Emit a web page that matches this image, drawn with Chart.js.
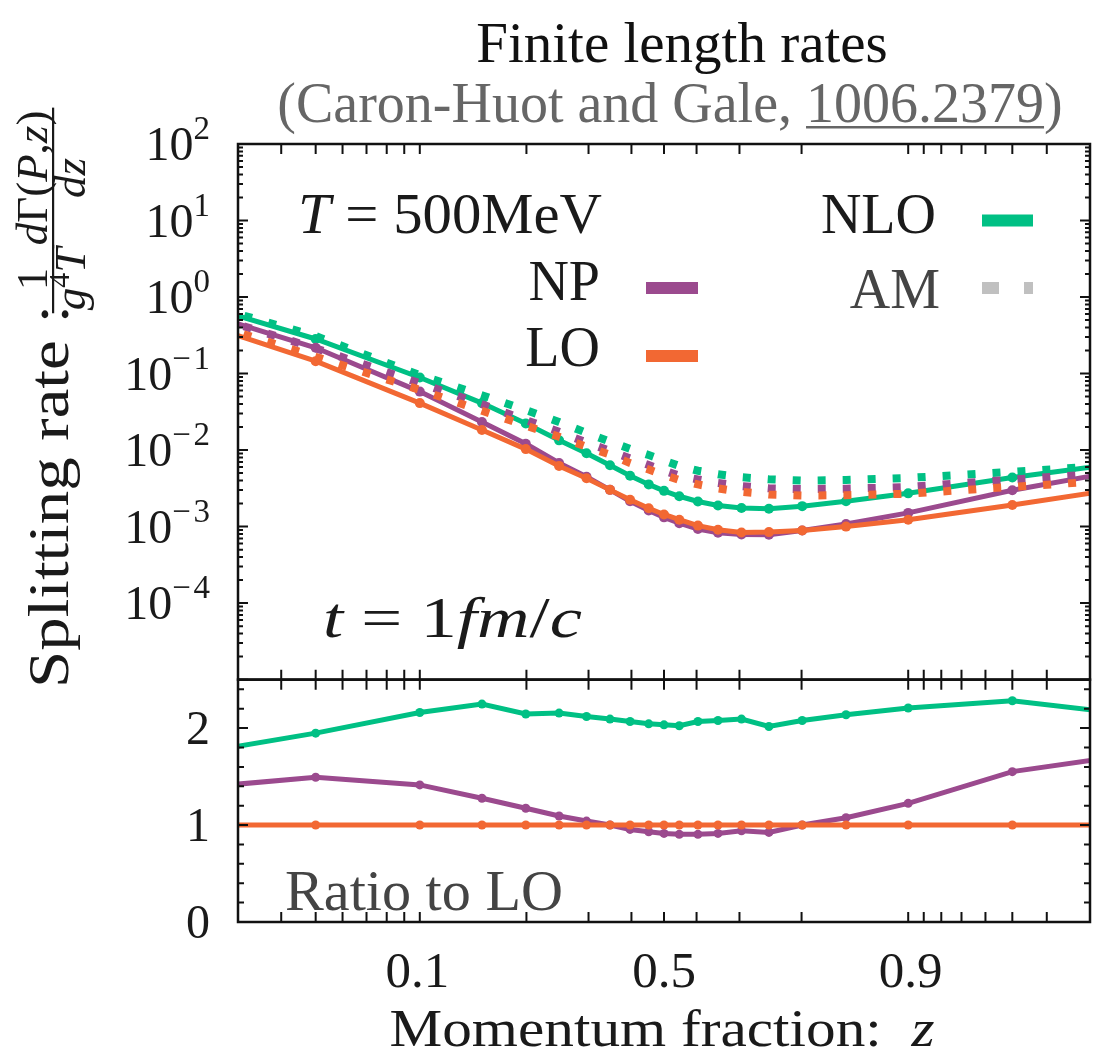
<!DOCTYPE html>
<html>
<head>
<meta charset="utf-8">
<title>Finite length rates</title>
<script src="https://cdn.jsdelivr.net/npm/chart.js@4.4.1/dist/chart.umd.min.js"></script>
<style>
  html, body { margin: 0; padding: 0; background: #fff; }
  canvas { display: block; }
</style>
</head>
<body>
<canvas id="rates" width="1110" height="1056"></canvas>
<script>
// momentum fraction z of each sample (first and last sit just outside the plotted window)
const zValues = [0.01, 0.043, 0.102, 0.165, 0.226, 0.282, 0.334, 0.382, 0.425, 0.466, 0.5,
                 0.534, 0.575, 0.618, 0.666, 0.718, 0.774, 0.835, 0.898, 0.957, 0.99];

// splitting rate  1/(g^4 T) dGamma/dz  at t = 1 fm/c
const loRate  = [0.764, 0.145, 0.0411, 0.0183, 0.0103, 0.00621, 0.00429, 0.00302, 0.00224, 0.00174, 0.00144,
                 0.00123, 0.00103, 0.000908, 0.000838, 0.000847, 0.000891, 0.00100, 0.00123, 0.00192, 0.00411];
const npRate  = [1.02, 0.217, 0.0581, 0.0233, 0.0121, 0.00679, 0.00447, 0.00302, 0.00214, 0.00162, 0.00132,
                 0.00111, 0.000931, 0.000830, 0.000789, 0.000783, 0.000891, 0.00108, 0.00151, 0.00298, 0.00739];
const nloRate = [1.26, 0.283, 0.0888, 0.0411, 0.0222, 0.0134, 0.0091, 0.00632, 0.00463, 0.00356, 0.00293,
                 0.00249, 0.00213, 0.00189, 0.00175, 0.00171, 0.00185, 0.00214, 0.00272, 0.00438, 0.00857];

// AM curves (dotted)
const loAM  = [0.80, 0.166, 0.0612, 0.0326, 0.0209, 0.0149, 0.0110, 0.00875, 0.00676, 0.00556, 0.00472,
               0.00406, 0.00356, 0.00316, 0.00284, 0.00263, 0.00255, 0.00257, 0.00269, 0.00331, 0.00452];
const npAM  = [1.0, 0.214, 0.0748, 0.0398, 0.0247, 0.0173, 0.01256, 0.00975, 0.00776, 0.00638, 0.0054,
               0.00462, 0.00413, 0.00372, 0.00339, 0.00316, 0.00309, 0.00313, 0.00329, 0.00412, 0.00571];
const nloAM = [1.3, 0.309, 0.0955, 0.0521, 0.0333, 0.0233, 0.0168, 0.0129, 0.01035, 0.00861, 0.0073,
               0.00621, 0.00537, 0.00483, 0.00442, 0.00415, 0.00399, 0.00407, 0.00433, 0.00518, 0.00723];

// ratio to LO (lower panel)
const ratioNLO = [1.655, 1.948, 2.161, 2.248, 2.145, 2.155, 2.12, 2.093, 2.068, 2.044, 2.034,
                  2.024, 2.068, 2.079, 2.093, 2.017, 2.079, 2.138, 2.207, 2.282, 2.084];
const ratioNP  = [1.34, 1.493, 1.414, 1.276, 1.173, 1.093, 1.041, 1.0, 0.955, 0.931, 0.914,
                  0.904, 0.904, 0.914, 0.941, 0.924, 1.0, 1.076, 1.224, 1.551, 1.797];
const ratioLO  = [1, 1, 1, 1, 1, 1, 1, 1, 1, 1, 1, 1, 1, 1, 1, 1, 1, 1, 1, 1, 1];

// axis decorations
const xTickZ = [0.032, 0.043, 0.054, 0.066, 0.078, 0.09, 0.102, 0.227, 0.338, 0.428, 0.5,
                0.572, 0.662, 0.773, 0.898, 0.91, 0.922, 0.934, 0.946, 0.957, 0.968];
const xLabels = ['0.1', '0.5', '0.9'];
const logExponents = [2, 1, 0, -1, -2, -3, -4];
const ratioLabels = [0, 1, 2];

const GREEN = '#00c084', PURPLE = '#9b4a8e', ORANGE = '#f26833', GREY = '#c0c0c0';
const SERIF = '"Liberation Serif", "Times New Roman", serif';
const font = (size, style) => (style ? style + ' ' : '') + size + 'px ' + SERIF;

// z axis is linear in log(z/(1-z))
const logit = z => Math.log(z / (1 - z));
class LogitScale extends Chart.Scale {
  static id = 'logit';
  static defaults = {};
  determineDataLimits() {
    this.min = this.options.min;
    this.max = this.options.max;
  }
  buildTicks() {
    return xLabels.map(v => ({ value: +v }));
  }
  configure() {
    super.configure();
    this._lo = logit(this.min);
    this._hi = logit(this.max);
  }
  getPixelForValue(v) {
    return this.getPixelForDecimal((logit(v) - this._lo) / (this._hi - this._lo));
  }
  getValueForPixel(p) {
    const l = this._lo + this.getDecimalForPixel(p) * (this._hi - this._lo);
    return 1 / (1 + Math.exp(-l));
  }
}
Chart.register(LogitScale);

const pts = vals => zValues.map((z, i) => ({ x: z, y: vals[i] }));

function dotted(label, vals, color) {
  return { label, data: pts(vals), yAxisID: 'y', borderColor: color, borderWidth: 8,
           borderDash: [8, 17], borderCapStyle: 'butt', pointRadius: 0, tension: 0 };
}
function solid(label, vals, color, axis) {
  const top = axis === 'y';
  return { label, data: pts(vals), yAxisID: axis, borderColor: color, backgroundColor: color,
           borderWidth: 5, pointRadius: top ? 5 : 4.5, pointBorderWidth: 0,
           pointBackgroundColor: color, tension: 0 };
}

// draws a run of text pieces [text, size, style, dy]; optional width stretches it horizontally
function drawRuns(ctx, runs, x, y, align, fitWidth) {
  let natural = 0;
  for (const r of runs) { ctx.font = font(r[1], r[2]); natural += ctx.measureText(r[0]).width; }
  const sx = fitWidth ? fitWidth / natural : 1;
  const total = natural * sx;
  const left = align === 'right' ? x - total : align === 'center' ? x - total / 2 : x;
  ctx.save();
  ctx.translate(left, y);
  ctx.scale(sx, 1);
  ctx.textAlign = 'left';
  ctx.textBaseline = 'alphabetic';
  let cx = 0;
  for (const r of runs) {
    ctx.font = font(r[1], r[2]);
    ctx.fillText(r[0], cx, r[3] || 0);
    cx += ctx.measureText(r[0]).width;
  }
  ctx.restore();
  return { left, width: total };
}

function fraction(ctx, num, den, cx, size) {
  const sized = runs => runs.map(r => [r[0], r[1] || size, r[2], r[3]]);
  const wOf = runs => runs.reduce((s, r) => { ctx.font = font(r[1], r[2]); return s + ctx.measureText(r[0]).width; }, 0);
  const n = sized(num), d = sized(den);
  const w = Math.max(wOf(n), wOf(d)) + 6;
  drawRuns(ctx, n, cx, -21, 'center');
  drawRuns(ctx, d, cx, 17, 'center');
  ctx.fillRect(cx - w / 2, -16, w, 2.2);
}

const framePlugin = {
  id: 'frame',
  afterDatasetsDraw(chart) {
    const { ctx, chartArea: area, scales } = chart;
    const x = scales.x, yTop = scales.y, yRat = scales.y2;
    const L = area.left, R = area.right;
    ctx.save();

    // panel borders
    ctx.strokeStyle = '#111';
    ctx.lineWidth = 2.5;
    ctx.strokeRect(L, yTop.top, R - L, yTop.bottom - yTop.top);
    ctx.strokeRect(L, yRat.top, R - L, yRat.bottom - yRat.top);

    // inward tick marks
    ctx.lineWidth = 2;
    ctx.beginPath();
    for (const z of xTickZ) {
      const px = x.getPixelForValue(z);
      for (const [py, dir] of [[yTop.top, 1], [yTop.bottom, -1], [yRat.top, 1], [yRat.bottom, -1]]) {
        ctx.moveTo(px, py);
        ctx.lineTo(px, py + dir * 10);
      }
    }
    for (let e = -5; e <= 1; e++) {
      for (let m = 1; m <= 9; m++) {
        const py = yTop.getPixelForValue(m * Math.pow(10, e));
        const len = m === 1 ? 10 : 5;
        ctx.moveTo(L, py); ctx.lineTo(L + len, py);
        ctx.moveTo(R, py); ctx.lineTo(R - len, py);
      }
    }
    for (let k = 1; k < 13; k++) {
      const py = yRat.getPixelForValue(k * 0.2);
      const len = k % 5 === 0 ? 10 : 6;
      ctx.moveTo(L, py); ctx.lineTo(L + len, py);
      ctx.moveTo(R, py); ctx.lineTo(R - len, py);
    }
    ctx.stroke();

    // tick labels
    ctx.fillStyle = '#1a1a1a';
    for (const e of logExponents) {
      const py = yTop.getPixelForValue(Math.pow(10, e));
      const exp = e < 0 ? [['\u2212', 33, '', -21], ['\u200a' + (-e), 33, '', -21]] : [[String(e), 33, '', -21]];
      drawRuns(ctx, [['10', 48]].concat(exp), 210, py + 16, 'right');
    }
    for (const v of ratioLabels) {
      drawRuns(ctx, [[String(v), 48]], 210, yRat.getPixelForValue(v) + 16, 'right');
    }
    for (const s of xLabels) {
      drawRuns(ctx, [[s, 51]], x.getPixelForValue(+s), 987, 'center');
    }
    drawRuns(ctx, [['Momentum fraction:', 52], ['  ', 52], ['z', 52, 'italic']], 662, 1046, 'center', 545);

    // vertical axis title
    ctx.save();
    ctx.translate(68, 688);
    ctx.rotate(-Math.PI / 2);
    drawRuns(ctx, [['Splitting rate :', 56]], 0, 0, 'left', 383);
    fraction(ctx, [['1']], [['g', 0, 'italic'], ['4', 30, '', -16], ['T', 0, 'italic']], 409, 45);
    fraction(ctx, [['d', 0, 'italic'], ['\u0393(', 0], ['P', 0, 'italic'], [',', 0], ['z', 0, 'italic'], [')', 0]],
             [['dz', 0, 'italic']], 510, 45);
    ctx.restore();

    // titles
    ctx.fillStyle = '#111';
    drawRuns(ctx, [['Finite length rates', 57]], 682, 62, 'center');
    ctx.fillStyle = '#666';
    const pre = '(Caron-Huot and Gale, ';
    const sub = drawRuns(ctx, [[pre + '1006.2379)', 56]], 670, 122, 'center');
    ctx.font = font(56);
    const u0 = sub.left + ctx.measureText(pre).width;
    const u1 = u0 + ctx.measureText('1006.2379').width;
    ctx.fillRect(u0, 126, u1 - u0, 2.5);

    // annotations
    ctx.fillStyle = '#1a1a1a';
    drawRuns(ctx, [['T', 58, 'italic'], [' = ', 58], ['500MeV', 58]], 298, 233, 'left', 304);
    drawRuns(ctx, [['t', 58, 'italic'], [' = ', 58], ['1', 58], ['fm', 58, 'italic'], ['/', 58], ['c', 58, 'italic']],
             323, 637, 'left', 259);
    ctx.fillStyle = '#444';
    drawRuns(ctx, [['Ratio to LO', 58]], 285, 910, 'left', 278);

    // key
    ctx.fillStyle = '#1a1a1a';
    drawRuns(ctx, [['NP', 56]], 600, 300, 'right');
    drawRuns(ctx, [['LO', 56]], 600, 366, 'right');
    drawRuns(ctx, [['NLO', 56]], 936, 233, 'right');
    ctx.fillStyle = '#444';
    drawRuns(ctx, [['AM', 56]], 940, 308, 'right');
    const sample = (x0, x1, y, color, dash) => {
      ctx.beginPath();
      ctx.setLineDash(dash || []);
      ctx.strokeStyle = color;
      ctx.lineWidth = 12;
      ctx.lineCap = 'butt';
      ctx.moveTo(x0, y); ctx.lineTo(x1, y);
      ctx.stroke();
    };
    sample(646, 698, 288, PURPLE);
    sample(646, 698, 356, ORANGE);
    sample(982, 1033, 220.5, GREEN);
    sample(982, 1033, 288, GREY, [17, 25]);
    ctx.restore();
  }
};

new Chart(document.getElementById('rates'), {
  type: 'line',
  data: {
    datasets: [
      dotted('LO AM', loAM, ORANGE),
      dotted('NP AM', npAM, PURPLE),
      dotted('NLO AM', nloAM, GREEN),
      solid('LO', loRate, ORANGE, 'y'),
      solid('NP', npRate, PURPLE, 'y'),
      solid('NLO', nloRate, GREEN, 'y'),
      solid('LO ratio', ratioLO, ORANGE, 'y2'),
      solid('NP ratio', ratioNP, PURPLE, 'y2'),
      solid('NLO ratio', ratioNLO, GREEN, 'y2')
    ]
  },
  options: {
    responsive: false,
    animation: false,
    events: [],
    layout: { padding: { left: 238, right: 20, top: 144, bottom: 134 } },
    plugins: { legend: { display: false }, tooltip: { enabled: false } },
    scales: {
      x: { type: 'logit', min: 0.022, max: 0.978, display: false },
      y: { type: 'logarithmic', min: 1e-5, max: 1e2, display: false, stack: 'panels', stackWeight: 2.21, weight: 1 },
      y2: { type: 'linear', min: 0, max: 2.5, display: false, stack: 'panels', stackWeight: 1, weight: 0 }
    }
  },
  plugins: [framePlugin]
});
</script>
</body>
</html>
